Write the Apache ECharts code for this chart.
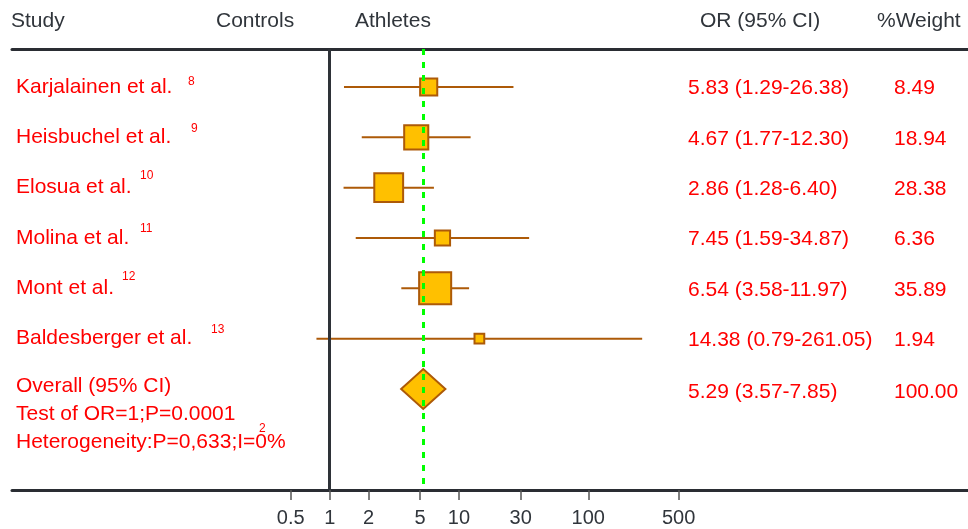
<!DOCTYPE html>
<html>
<head>
<meta charset="utf-8">
<script src="https://cdn.jsdelivr.net/npm/echarts@6/dist/echarts.min.js"></script>
<style>
  html, body { margin: 0; padding: 0; background: #fff; }
  #forest { width: 968px; height: 529px; }
</style>
</head>
<body>
<div id="forest"></div>
<script>
// Datos del forest plot
const studies = ['Karjalainen et al.', 'Heisbuchel et al.', 'Elosua et al.', 'Molina et al.', 'Mont et al.', 'Baldesberger et al.'];
const refs = ['8', '9', '10', '11', '12', '13'];
const orValues = [5.83, 4.67, 2.86, 7.45, 6.54, 14.38];
const ciLow = [1.29, 1.77, 1.28, 1.59, 3.58, 0.79];
const ciHigh = [26.38, 12.30, 6.40, 34.87, 11.97, 261.05];
const weights = [8.49, 18.94, 28.38, 6.36, 35.89, 1.94];
const overallOR = [5.29, 3.57, 7.85]; // OR, bajo, alto
const overallWeight = 100.00;
const tickValues = [0.5, 1, 2, 5, 10, 30, 100, 500];
const headers = ['Study', 'Controls', 'Athletes', 'OR (95% CI)', '%Weight'];
const overallLines = ['Overall (95% CI)', 'Test of OR=1;P=0.0001', 'Heterogeneity:P=0,633;I=0%'];
const overallSup = '2';

// Posiciones de texto (solo layout)
const headerX = [11, 216, 355, 700, 877];
const supX = [188, 191, 140, 140, 122, 211];
const supDy = [-5, -9, -12, -9, -12, -9];
const overallY = [385, 413, 441];
const colOR = 688;
const colWeight = 894;

const FONT = '"Liberation Sans", Arial, sans-serif';
const RED = '#ff0000';
const DARK = '#30353b';
const BROWN = '#ad5a08';
const overallRow = studies.length;

const chartDom = document.getElementById('forest');
const chart = echarts.init(chartDom);

function fmt(v) { return v.toFixed(2); }

const rows = studies.map((s, i) => i);

const option = {
    animation: false,
    grid: { left: 12, right: 0, top: 49, bottom: 39 },
    xAxis: [
        {
            type: 'log',
            min: 0.003491,
            max: 86440,
            axisLine: { show: true, onZero: false, lineStyle: { color: '#2a2d33', width: 3 } },
            axisTick: { show: true, customValues: tickValues, length: 10, lineStyle: { color: '#555', width: 1.5 } },
            axisLabel: {
                show: true,
                customValues: tickValues,
                margin: 18,
                fontSize: 20,
                fontFamily: FONT,
                color: DARK,
                formatter: v => String(v)
            },
            splitLine: { show: false }
        },
        {
            type: 'log',
            position: 'top',
            min: 0.003491,
            max: 86440,
            axisLine: { show: true, onZero: false, lineStyle: { color: '#2a2d33', width: 3 } },
            axisTick: { show: false },
            axisLabel: { show: false },
            splitLine: { show: false }
        }
    ],
    yAxis: {
        type: 'value',
        inverse: true,
        min: -0.755,
        max: 8.007,
        show: false
    },
    graphic: [
        ...headers.map((h, i) => ({
            type: 'text',
            left: headerX[i],
            top: 11,
            style: { text: h, font: '21px ' + FONT, fill: DARK }
        })),
        ...overallLines.map((t, i) => ({
            type: 'text',
            left: 16,
            top: overallY[i] - 9,
            style: { text: t, font: '21px ' + FONT, fill: RED }
        })),
        {
            type: 'text',
            left: 259,
            top: 423,
            style: { text: overallSup, font: '12px ' + FONT, fill: RED }
        }
    ],
    series: [
        {
            // intervalos de confianza
            type: 'custom',
            z: 2,
            data: rows.map(i => [ciLow[i], ciHigh[i], i]),
            renderItem: function(params, api) {
                const a = api.coord([api.value(0), api.value(2)]);
                const b = api.coord([api.value(1), api.value(2)]);
                return {
                    type: 'line',
                    shape: { x1: a[0], y1: a[1], x2: b[0], y2: b[1] },
                    style: { stroke: BROWN, lineWidth: 2 }
                };
            }
        },
        {
            // cuadrados con tamaño según peso
            type: 'scatter',
            z: 3,
            symbol: 'rect',
            data: rows.map(i => [orValues[i], i, weights[i]]),
            symbolSize: d => 3 + 4.85 * Math.sqrt(d[2]),
            itemStyle: { color: '#ffc000', borderColor: BROWN, borderWidth: 2, opacity: 1 }
        },
        {
            // diamante global
            type: 'custom',
            z: 3,
            data: [[overallOR[1], overallOR[0], overallOR[2], overallRow]],
            renderItem: function(params, api) {
                const r = api.value(3);
                const l = api.coord([api.value(0), r]);
                const c = api.coord([api.value(1), r]);
                const h = api.coord([api.value(2), r]);
                return {
                    type: 'polygon',
                    shape: { points: [[l[0], l[1]], [c[0], c[1] - 20], [h[0], h[1]], [c[0], c[1] + 20]] },
                    style: { fill: '#ffc000', stroke: BROWN, lineWidth: 2 }
                };
            }
        },
        {
            // textos de la tabla
            type: 'custom',
            z: 4,
            silent: true,
            data: rows.map(i => [1, i]).concat([[1, overallRow]]),
            renderItem: function(params, api) {
                const i = params.dataIndex;
                const y = api.coord([1, api.value(1)])[1];
                const children = [];
                if (i < studies.length) {
                    children.push({
                        type: 'text',
                        style: { text: studies[i], x: 16, y: y, verticalAlign: 'middle', font: '21px ' + FONT, fill: RED }
                    });
                    children.push({
                        type: 'text',
                        style: { text: refs[i], x: supX[i], y: y + supDy[i], verticalAlign: 'middle', font: '12px ' + FONT, fill: RED }
                    });
                    children.push({
                        type: 'text',
                        style: { text: fmt(orValues[i]) + ' (' + fmt(ciLow[i]) + '-' + fmt(ciHigh[i]) + ')', x: colOR, y: y + 1.5, verticalAlign: 'middle', font: '21px ' + FONT, fill: RED }
                    });
                    children.push({
                        type: 'text',
                        style: { text: fmt(weights[i]), x: colWeight, y: y + 1.5, verticalAlign: 'middle', font: '21px ' + FONT, fill: RED }
                    });
                } else {
                    children.push({
                        type: 'text',
                        style: { text: fmt(overallOR[0]) + ' (' + fmt(overallOR[1]) + '-' + fmt(overallOR[2]) + ')', x: colOR, y: y + 3, verticalAlign: 'middle', font: '21px ' + FONT, fill: RED }
                    });
                    children.push({
                        type: 'text',
                        style: { text: fmt(overallWeight), x: colWeight, y: y + 3, verticalAlign: 'middle', font: '21px ' + FONT, fill: RED }
                    });
                }
                return { type: 'group', children: children };
            }
        },
        {
            // líneas de referencia: OR=1 y OR global
            type: 'line',
            z: 6,
            data: [],
            markLine: {
                silent: true,
                symbol: 'none',
                label: { show: false },
                data: [
                    { xAxis: 1, lineStyle: { color: '#2e3238', width: 3, type: 'solid' } },
                    { xAxis: overallOR[0], lineStyle: { color: '#00ff00', width: 3, type: [6, 7] } }
                ]
            }
        }
    ]
};

chart.setOption(option);

window.addEventListener('resize', function() {
    chart.resize();
});
</script>
</body>
</html>
